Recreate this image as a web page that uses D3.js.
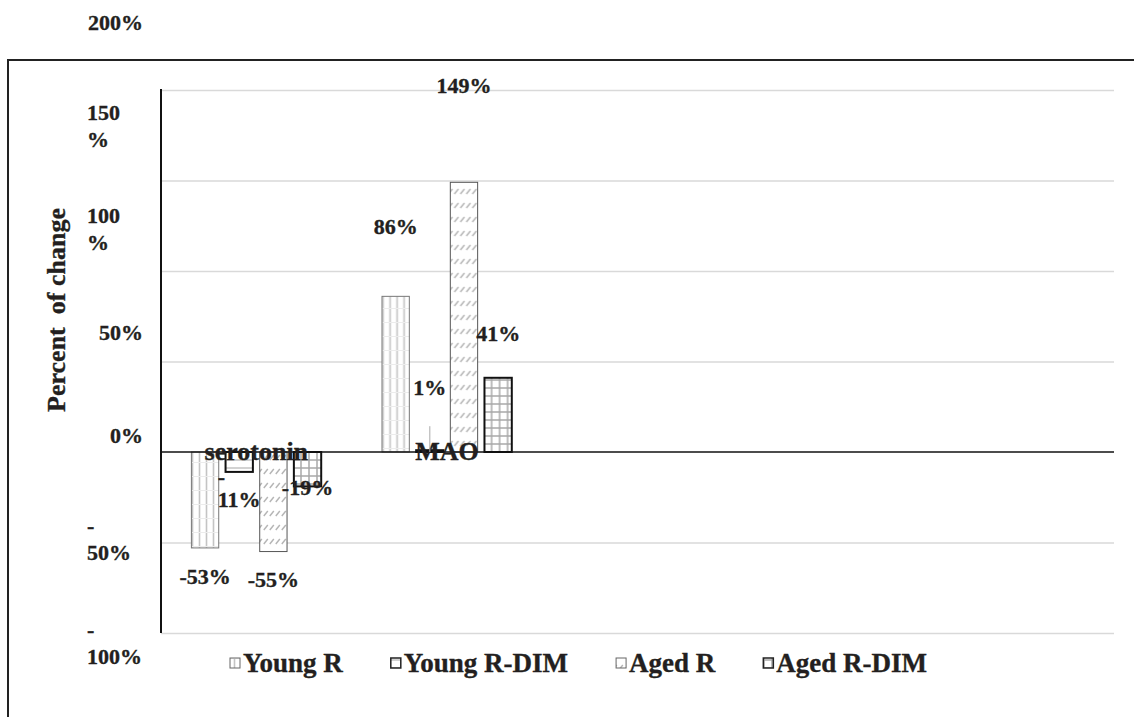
<!DOCTYPE html>
<html>
<head>
<meta charset="utf-8" />
<script src="https://d3js.org/d3.v7.min.js"></script>
<title>Percent of change</title>
<style>
  body { margin: 0; background: #fff; }
  text { font-family: "Liberation Serif", "Times New Roman", serif; font-weight: bold; fill: #231f20; stroke: #231f20; stroke-width: 0.35px; }
  .grid line { stroke: #d9d9d9; stroke-width: 1.5px; }
  .grid path { display: none; }
</style>
</head>
<body>
<svg id="chart" width="1134" height="717"></svg>
<script>

// data
var categories = ["serotonin", "MAO"];
var seriesNames = ["Young R", "Young R-DIM", "Aged R", "Aged R-DIM"];
var youngR    = [-53, 86];
var youngRDim = [-11, 1];
var agedR     = [-55, 149];
var agedRDim  = [-19, 41];
var tickValues = [-100, -50, 0, 50, 100, 150, 200];
var tickLabels = ["-\n100%", "-\n50%", "0%", "50%", "100\n%", "150\n%", "200%"];

var allSeries = [youngR, youngRDim, agedR, agedRDim];

// label nudges, as the labels were hand-placed in the original
var labelLayout = [
  [{dy: 36}, {dy: -62}],
  [{dy: 12, wrap: true}, {dy: -55, leader: true}],
  [{dy: 35}, {dy: -89}],
  [{dy: 9}, {dy: -37}]
];

var svg = d3.select("#chart");
var plot = {left: 161, right: 1114, top: 90, bottom: 633};
var slots = 5; // plot area leaves room for 5 categories, only 2 used

var y = d3.scaleLinear().domain([-100, 200]).range([plot.bottom, plot.top]);
var x0 = d3.scaleBand().domain(d3.range(slots)).range([plot.left, plot.right]);
var x1 = d3.scaleBand().domain(d3.range(seriesNames.length))
  .range([0, x0.bandwidth()]).paddingInner(0.2).paddingOuter(0.89);
// the tick labels sit on their own (shifted) scale in the original
var labelY = d3.scaleLinear().domain([-100, 200]).range([643, 23]);

var strokes = ["#777", "#111", "#555", "#111"];
var strokeW = [1, 2, 1, 2];

// patterns
var defs = svg.append("defs");
function pattern(id, w, h) {
  var p = defs.append("pattern").attr("id", id)
    .attr("patternUnits", "userSpaceOnUse").attr("width", w).attr("height", h);
  p.append("rect").attr("width", w).attr("height", h).attr("fill", "#fff");
  return p;
}
var p0 = pattern("pat0", 7, 14);
p0.append("line").attr("x1", 3.5).attr("x2", 3.5).attr("y1", 0).attr("y2", 14)
  .attr("stroke", "#c4c4c4").attr("stroke-width", 1.6);
p0.append("line").attr("x1", 0).attr("x2", 7).attr("y1", 0.5).attr("y2", 0.5)
  .attr("stroke", "#ececec").attr("stroke-width", 1);
var p1 = pattern("pat1", 8, 8);
p1.append("line").attr("x1", 0).attr("x2", 8).attr("y1", 4).attr("y2", 4)
  .attr("stroke", "#c4c4c4").attr("stroke-width", 1.5);
var p2 = pattern("pat2", 6, 14);
p2.append("line").attr("x1", 0.8).attr("y1", 12).attr("x2", 4.8).attr("y2", 7)
  .attr("stroke", "#b5b5b5").attr("stroke-width", 1.4);
var p3 = pattern("pat3", 8, 8);
p3.append("line").attr("x1", 4).attr("x2", 4).attr("y1", 0).attr("y2", 8)
  .attr("stroke", "#a8a8a8").attr("stroke-width", 1.5);
p3.append("line").attr("x1", 0).attr("x2", 8).attr("y1", 4).attr("y2", 4)
  .attr("stroke", "#a8a8a8").attr("stroke-width", 1.5);

// outer frame (top and left only)
svg.append("path").attr("d", "M8,717V60H1134")
  .attr("fill", "none").attr("stroke", "#222").attr("stroke-width", 2);

// gridlines
svg.append("g").attr("class", "grid")
  .attr("transform", "translate(" + plot.left + ",0)")
  .call(d3.axisLeft(y).tickValues(tickValues.filter(function(v) { return v !== 0; }))
    .tickSize(-(plot.right - plot.left)).tickFormat(""));

// bars
var groups = svg.selectAll(".cat")
  .data(categories)
  .enter().append("g")
  .attr("class", "cat")
  .attr("transform", function(d, i) { return "translate(" + x0(i) + ",0)"; });

groups.selectAll("rect")
  .data(function(d, ci) {
    return allSeries.map(function(s, si) { return {si: si, ci: ci, v: s[ci]}; });
  })
  .enter().append("rect")
  .attr("x", function(d) { return x1(d.si); })
  .attr("width", x1.bandwidth())
  .attr("y", function(d) { return Math.min(y(d.v), y(0)); })
  .attr("height", function(d) { return Math.abs(y(d.v) - y(0)); })
  .attr("fill", function(d) { return "url(#pat" + d.si + ")"; })
  .attr("stroke", function(d) { return strokes[d.si]; })
  .attr("stroke-width", function(d) { return strokeW[d.si]; });

// zero line and y axis line
svg.append("line").attr("x1", plot.left).attr("x2", plot.right)
  .attr("y1", y(0)).attr("y2", y(0)).attr("stroke", "#111").attr("stroke-width", 1.6);
svg.append("line").attr("x1", plot.left).attr("x2", plot.left)
  .attr("y1", plot.top - 1).attr("y2", plot.bottom).attr("stroke", "#111").attr("stroke-width", 2);

// tick labels
tickValues.forEach(function(v, i) {
  var lines = tickLabels[i].split("\n");
  var base = labelY(v) - (lines.length - 1) * 27 / 2 + 7;
  var t = svg.append("text").style("font-size", "22px")
    .attr("text-anchor", lines.length > 1 ? "start" : "end");
  lines.forEach(function(line, k) {
    t.append("tspan").attr("x", lines.length > 1 ? 87 : 143)
      .attr("y", base + k * 27).text(line);
  });
});

// axis title
svg.append("text")
  .attr("transform", "translate(65,310) rotate(-90)")
  .attr("text-anchor", "middle")
  .style("font-size", "26px")
  .style("white-space", "pre")
  .text("Percent  of change");

// category labels (drawn over the bars, as in the original)
categories.forEach(function(c, i) {
  svg.append("text")
    .attr("x", x0(i) + x0.bandwidth() / 2)
    .attr("y", y(0) + 8)
    .attr("text-anchor", "middle")
    .style("font-size", "26px")
    .text(c);
});

// value labels
allSeries.forEach(function(s, si) {
  s.forEach(function(v, ci) {
    var lay = labelLayout[si][ci];
    var cx = x0(ci) + x1(si) + x1.bandwidth() / 2;
    var base = y(v) + lay.dy;
    var txt = v + "%";
    if (lay.wrap) {
      var t = svg.append("text").style("font-size", "22px");
      var lines = [txt.slice(0, 1), txt.slice(1)];
      var spans = lines.map(function(line, k) {
        return t.append("tspan").attr("y", base + k * 23).text(line);
      });
      var wmax = d3.max(spans, function(sp) { return sp.node().getComputedTextLength(); });
      spans.forEach(function(sp) { sp.attr("x", cx - wmax / 2); });
    } else {
      svg.append("text").attr("x", cx).attr("y", base)
        .attr("text-anchor", "middle").style("font-size", "22px").text(txt);
    }
    if (lay.leader) {
      svg.append("line").attr("x1", cx).attr("x2", cx)
        .attr("y1", base + 31).attr("y2", y(0))
        .attr("stroke", "#aaa").attr("stroke-width", 1);
    }
  });
});

// legend
var legendX = 230;
seriesNames.forEach(function(name, i) {
  svg.append("rect")
    .attr("x", legendX).attr("y", 658).attr("width", 10).attr("height", 10)
    .attr("fill", "url(#pat" + i + ")")
    .attr("stroke", i % 2 ? "#222" : "#666").attr("stroke-width", i % 2 ? 1.5 : 1);
  var t = svg.append("text").attr("x", legendX + 13).attr("y", 672)
    .style("font-size", "27px").text(name);
  legendX += 13 + t.node().getComputedTextLength() + 48;
});

</script>
</body>
</html>
